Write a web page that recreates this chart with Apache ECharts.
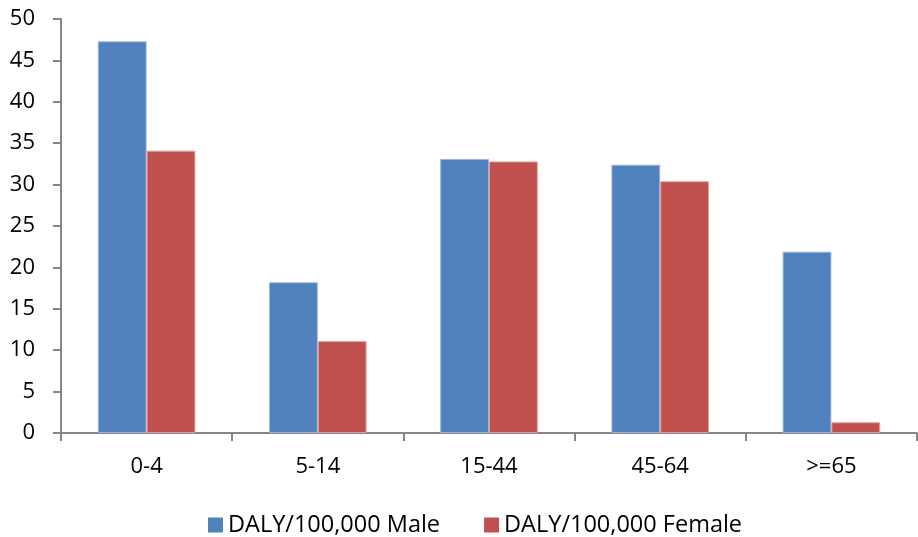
<!DOCTYPE html>
<html><head><meta charset="utf-8">
<script src="https://cdn.jsdelivr.net/npm/echarts@6/dist/echarts.min.js"></script>
<style>html,body{margin:0;padding:0;background:#fff}#c{width:918px;height:537px}</style>
</head><body><div id="c"></div>
<script>
const categories = ['0-4', '5-14', '15-44', '45-64', '>=65'];
const maleValues = [47.3, 18.2, 33.1, 32.4, 21.9];
const femaleValues = [34.1, 11.1, 32.8, 30.4, 1.3];
const seriesNames = ['DALY/100,000 Male', 'DALY/100,000 Female'];
const yTicks = { min: 0, max: 50, interval: 5 };

const font = '"Open Sans", "Liberation Sans", sans-serif';
const chart = echarts.init(document.getElementById('c'), null, { renderer: 'canvas' });
chart.setOption({
  animation: false,
  grid: { left: 61, right: 1, top: 19, bottom: 104, containLabel: false },
  legend: {
    top: 508, left: 203, itemWidth: 15, itemHeight: 15, itemGap: 44,
    icon: 'rect',
    itemStyle: { borderWidth: 0 },
    textStyle: { fontFamily: font, fontSize: 23.5, color: '#000' },
    data: seriesNames
  },
  xAxis: {
    type: 'category', data: categories,
    axisLine: { lineStyle: { color: '#868686', width: 2 } },
    axisTick: { show: true, length: 8, lineStyle: { color: '#868686', width: 2 } },
    axisLabel: { fontFamily: font, fontSize: 22, color: '#000', margin: 23 }
  },
  yAxis: {
    type: 'value', min: yTicks.min, max: yTicks.max, interval: yTicks.interval,
    axisLine: { show: true, lineStyle: { color: '#868686', width: 2 } },
    axisTick: { show: true, length: 8, lineStyle: { color: '#868686', width: 2 } },
    splitLine: { show: false },
    axisLabel: { fontFamily: font, fontSize: 22, color: '#000', margin: 26 }
  },
  series: [
    { name: seriesNames[0], type: 'bar', data: maleValues, barGap: '0%', barCategoryGap: '43%',
      itemStyle: { color: '#4F81BD', borderColor: '#9DB6DC', borderWidth: 1 } },
    { name: seriesNames[1], type: 'bar', data: femaleValues,
      itemStyle: { color: '#C0504D', borderColor: '#E0A09E', borderWidth: 1 } }
  ]
});
</script></body></html>
